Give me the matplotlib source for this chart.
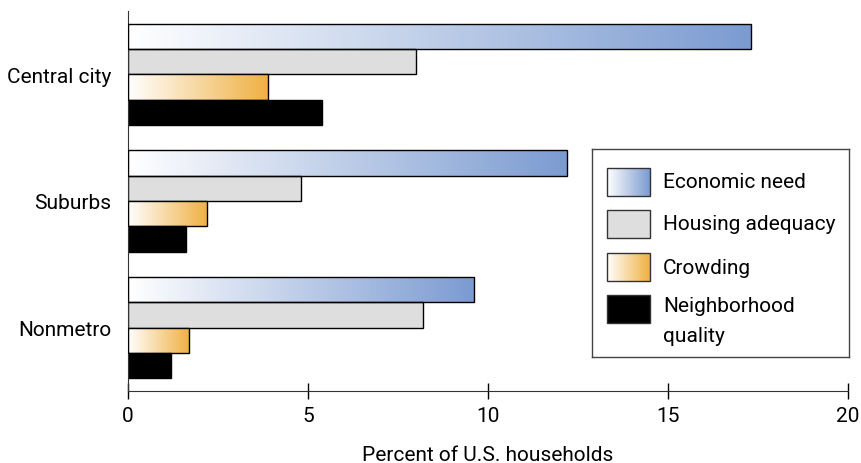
import numpy as np
import matplotlib
matplotlib.use('Agg')
import matplotlib.pyplot as plt
from matplotlib.colors import LinearSegmentedColormap

plt.rcParams['font.family'] = ['Roboto', 'DejaVu Sans']

places = ['Central city', 'Suburbs', 'Nonmetro']
series = ['Economic need', 'Housing adequacy', 'Crowding', 'Neighborhood\nquality']
econ = [17.3, 12.2, 9.6]
housing = [8.0, 4.8, 8.2]
crowding = [3.9, 2.2, 1.7]
neighborhood = [5.4, 1.6, 1.2]
values = [econ, housing, crowding, neighborhood]

blue = LinearSegmentedColormap.from_list('b', ['#ffffff', '#7b9bd1'])
orange = LinearSegmentedColormap.from_list('o', ['#ffffff', '#f0b042'])
styles = [('grad', blue), ('flat', '#dedede'), ('grad', orange), ('flat', '#000000')]
grad = np.linspace(0, 1, 256).reshape(1, -1)

fig = plt.figure(figsize=(8.62, 4.64), dpi=100)
ax = fig.add_axes([128/862, 72/464, 720/862, 380/464])

for i, (vals, (kind, col)) in enumerate(zip(values, styles)):
    ys = np.arange(len(places)) * 5 + (i - 1.5)
    if kind == 'flat':
        ax.barh(ys, vals, height=1.0, color=col, edgecolor='black', linewidth=1.0, zorder=2)
    else:
        bars = ax.barh(ys, vals, height=1.0, facecolor='none', edgecolor='black', linewidth=1.0, zorder=3)
        for b in bars:
            x0, y0, w, h = b.get_x(), b.get_y(), b.get_width(), b.get_height()
            im = ax.imshow(grad, cmap=col, aspect='auto', extent=(x0, x0 + w, y0 + h, y0),
                           zorder=2, interpolation='bicubic')
            im.set_clip_path(b)

ax.set_xlim(0, 20)
ax.set_ylim(12.5, -2.5)
ax.set_aspect('auto')
ax.set_yticks(np.arange(len(places)) * 5)
ax.set_yticklabels(places, fontsize=15)
ax.tick_params(axis='y', length=0, pad=12)
ax.set_xticks([0, 5, 10, 15, 20])
ax.tick_params(axis='x', direction='inout', length=12, width=1, labelsize=15, pad=5)
ax.set_xlabel('Percent of U.S. households', fontsize=15, labelpad=14)
for s in ['top', 'right']:
    ax.spines[s].set_visible(False)
for s in ['left', 'bottom']:
    ax.spines[s].set_color('#333333')

# legend box
lg = fig.add_axes([592/862, (464-358)/464, 257/862, 208/464])
lg.set_xticks([])
lg.set_yticks([])
for s in lg.spines.values():
    s.set_color('#444444')
    s.set_linewidth(1.0)
sw_y = [19, 61, 104, 146]
for (kind, col), label, y in zip(styles, series, sw_y):
    if kind == 'grad':
        lg.imshow(grad, cmap=col, aspect='auto', extent=(15, 58, y + 28, y), interpolation='bicubic')
        lg.add_patch(plt.Rectangle((15, y), 43, 28, fill=False, edgecolor='#333333', linewidth=1))
    else:
        lg.add_patch(plt.Rectangle((15, y), 43, 28, facecolor=col, edgecolor='#333333', linewidth=1))
    lg.text(71, y + 14 if '\n' not in label else y + 1, label, fontsize=15,
            va='center' if '\n' not in label else 'top', linespacing=1.75)
lg.set_xlim(0, 257)
lg.set_ylim(208, 0)
lg.set_aspect('auto')

fig.savefig('out.png', dpi=100)
